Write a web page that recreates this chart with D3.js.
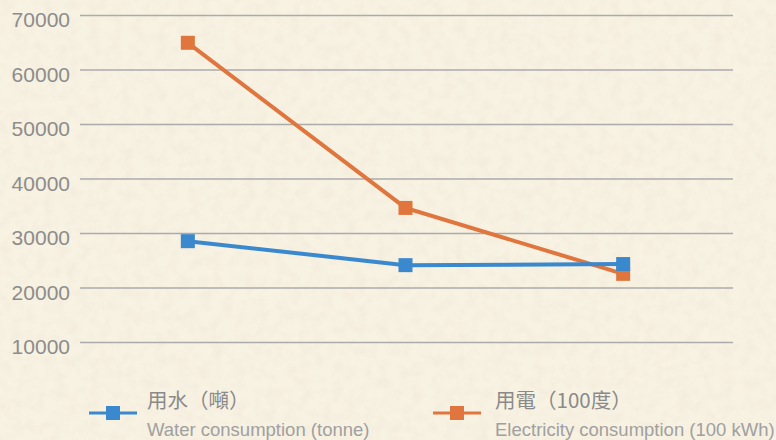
<!DOCTYPE html>
<html>
<head>
<meta charset="utf-8">
<script src="https://cdn.jsdelivr.net/npm/d3@7"></script>
<style>
  html, body { margin: 0; padding: 0; background: #f7f0e1; }
  svg { display: block; }
</style>
</head>
<body>
<svg id="chart" width="776" height="440"></svg>
<script>
const categories = ["A", "B", "C"];
const waterValues = [28500, 24100, 24300];
const electricityValues = [64900, 34600, 22500];
const yTicks = [10000, 20000, 30000, 40000, 50000, 60000, 70000];
const seriesNames = [
  { zh: "用水（噸）", en: "Water consumption (tonne)" },
  { zh: "用電（100度）", en: "Electricity consumption (100 kWh)" }
];
const colors = ["#3a88cd", "#e0763d"];

const svg = d3.select("#chart");
const W = 776, H = 440;

// background parchment texture
const defs = svg.append("defs");
const f = defs.append("filter").attr("id", "paper").attr("x", 0).attr("y", 0).attr("width", "100%").attr("height", "100%");
f.append("feTurbulence").attr("type", "fractalNoise").attr("baseFrequency", "0.09").attr("numOctaves", 3).attr("seed", 4).attr("result", "noise");
f.append("feColorMatrix").attr("in", "noise").attr("type", "matrix")
  .attr("values", "0 0 0 0 0.80  0 0 0 0 0.72  0 0 0 0 0.58  0 0 0 -1.6 0.95").attr("result", "tint");
f.append("feComposite").attr("in", "tint").attr("in2", "SourceGraphic").attr("operator", "over");
svg.append("rect").attr("width", W).attr("height", H).attr("fill", "#f8f2e3");
svg.append("rect").attr("width", W).attr("height", H).attr("fill", "#f8f2e3").attr("filter", "url(#paper)").attr("opacity", 0.3);

const x = d3.scalePoint().domain(categories).range([79, 732]).padding(0.5);
const y = d3.scaleLinear().domain([0, 70000]).range([396.5, 15]);

// grid + axis
const axis = d3.axisLeft(y).tickValues(yTicks).tickSize(-(733 - 80)).tickPadding(10).tickFormat(d3.format("d"));
const g = svg.append("g").attr("transform", "translate(80,0)").call(axis);
g.select(".domain").remove();
g.selectAll(".tick line").attr("stroke", "#ababab").attr("stroke-width", 1.5);
g.selectAll(".tick text")
  .attr("fill", "#8c8c8c")
  .attr("font-family", "'Liberation Sans', Arial, sans-serif")
  .attr("font-size", 21)
  .attr("dy", "0.55em");

const line = d3.line().x((d, i) => x(categories[i])).y(d => y(d));
const series = [waterValues, electricityValues];
const drawOrder = [1, 0];
drawOrder.forEach(si => {
  const vals = series[si];
  svg.append("path").datum(vals)
    .attr("d", line)
    .attr("fill", "none")
    .attr("stroke", colors[si])
    .attr("stroke-width", 4);
  svg.selectAll(null).data(vals).enter().append("rect")
    .attr("x", (d, i) => x(categories[i]) - 7)
    .attr("y", d => y(d) - 7)
    .attr("width", 14).attr("height", 14)
    .attr("fill", colors[si]);
});

// legend
const legendX = [89, 433];
const textX = [147, 495];
seriesNames.forEach((s, i) => {
  const lg = svg.append("g");
  lg.append("line").attr("x1", legendX[i]).attr("x2", legendX[i] + 48).attr("y1", 413).attr("y2", 413)
    .attr("stroke", colors[i]).attr("stroke-width", 3);
  lg.append("rect").attr("x", legendX[i] + 17).attr("y", 406).attr("width", 14).attr("height", 14).attr("fill", colors[i]);
  lg.append("text").attr("x", textX[i]).attr("y", 408)
    .attr("font-family", "'Noto Sans CJK TC', 'Liberation Sans', sans-serif")
    .attr("font-size", 20.5).attr("fill", "#8a8a8a").text(s.zh);
  lg.append("text").attr("x", textX[i]).attr("y", 436)
    .attr("font-family", "'Liberation Sans', Arial, sans-serif")
    .attr("font-size", 18.5).attr("fill", "#a0a0a0").text(s.en);
});
</script>
</body>
</html>
